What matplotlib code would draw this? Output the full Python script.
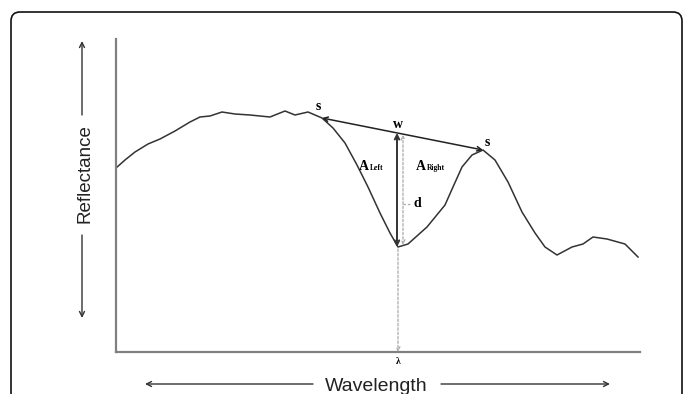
import matplotlib
matplotlib.use("Agg")
import matplotlib.pyplot as plt
from matplotlib.patches import FancyBboxPatch
from matplotlib.transforms import IdentityTransform

# spectrum (arbitrary units)
wavelength = [0, 9, 19, 32, 44, 59, 74, 84, 94, 106, 119, 134, 154, 169, 179,
              192, 206, 217, 229, 241, 252, 264, 274, 282, 292, 311, 329, 337,
              346, 356, 367, 379, 392, 406, 419, 429, 441, 456, 467, 477, 491,
              509, 522]
reflectance = [184, 192, 200, 208, 213, 221, 230, 235, 236, 240, 238, 237, 235,
               241, 237, 240, 234, 224, 209, 187, 165, 139, 119, 105, 108, 125,
               147, 165, 185, 197, 202, 192, 170, 140, 119, 105, 97, 105, 108,
               115, 113, 108, 95]

shoulder_left = (206, 234)
shoulder_right = (367, 202)
band_min = (282, 105)

fig = plt.figure(figsize=(6.83, 3.94), dpi=100)
W, H = 683, 394
ax = fig.add_axes([116 / W, (H - 352) / H, (640 - 116) / W, (352 - 39) / H])
ax.set_xlim(0, 524)
ax.set_ylim(0, 313)
for side in ["top", "right"]:
    ax.spines[side].set_visible(False)
for side in ["left", "bottom"]:
    ax.spines[side].set_color("#808080")
    ax.spines[side].set_linewidth(1.6)
ax.set_xticks([])
ax.set_yticks([])

ax.plot(wavelength, reflectance, color="#333333", lw=1.1)

# continuum line between shoulders
ax.annotate("", xy=shoulder_left, xytext=shoulder_right,
            arrowprops=dict(arrowstyle="<->", color="#222222", lw=1.1,
                            shrinkA=0, shrinkB=0, mutation_scale=8))

# w point on the continuum above the minimum
x0, y0 = shoulder_left
x1, y1 = shoulder_right
wx = band_min[0] - 1
wy = y0 + (y1 - y0) * (wx - x0) / (x1 - x0)

ax.annotate("", xy=(wx, wy), xytext=(wx, band_min[1]),
            arrowprops=dict(arrowstyle="<->", color="#333333", lw=1.4,
                            shrinkA=0, shrinkB=0, mutation_scale=8))
# depth dotted
ax.annotate("", xy=(wx + 6, wy - 2), xytext=(wx + 6, band_min[1] + 2),
            arrowprops=dict(arrowstyle="<->", color="#aaaaaa", lw=0.9,
                            linestyle=(0, (2, 1.5)), shrinkA=0, shrinkB=0,
                            mutation_scale=7))
dmid = (wy + band_min[1]) / 2 - 14
ax.plot([wx + 6, wx + 13], [dmid, dmid], color="#aaaaaa", lw=0.9,
        linestyle=(0, (2, 1.5)))
ax.text(wx + 17, dmid, "d", fontfamily="Liberation Serif", fontweight="bold",
        fontsize=10, va="center", ha="left")

# drop to wavelength axis
ax.annotate("", xy=(band_min[0], 0), xytext=(band_min[0], band_min[1] - 2),
            arrowprops=dict(arrowstyle="->", color="#aaaaaa", lw=0.9,
                            linestyle=(0, (2, 1.5)), shrinkA=0, shrinkB=0,
                            mutation_scale=7), annotation_clip=False)
ax.text(band_min[0], -10, "λ", fontfamily="Liberation Serif", fontweight="bold",
        fontsize=7, ha="center", va="center", clip_on=False)

serif = dict(fontfamily="Liberation Serif", fontweight="bold")
ax.text(x0 - 4, y0 + 11, "s", fontsize=10, ha="center", va="center", **serif)
ax.text(x1 + 4, y1 + 8, "s", fontsize=10, ha="center", va="center", **serif)
ax.text(wx + 1, wy + 8, "w", fontsize=10, ha="center", va="center", **serif)
ax.text(253, 182, "A", fontsize=10, ha="right", va="baseline", **serif)
ax.text(254, 182, "Left", fontsize=5.5, ha="left", va="baseline", **serif)
ax.text(310, 182, "A", fontsize=10, ha="right", va="baseline", **serif)
ax.text(311, 182, "Right", fontsize=5.5, ha="left", va="baseline", **serif)

# outer axis labels with arrows
sans = dict(fontfamily="Liberation Sans", color="#222222")
fig.text(85 / W, (H - 174) / H, "Reflectance", rotation=90, fontsize=13.5,
         ha="center", va="center", **sans)
fig.text(376 / W, 3 / H, "Wavelength", fontsize=14, ha="center",
         va="baseline", **sans)
arrow = dict(arrowstyle="->", color="#333333", lw=1.0, shrinkA=0, shrinkB=0,
             mutation_scale=9)
ax.annotate("", xy=(82, H - 41), xytext=(82, H - 115), xycoords="figure pixels",
            textcoords="figure pixels", arrowprops=arrow)
ax.annotate("", xy=(82, H - 318), xytext=(82, H - 235), xycoords="figure pixels",
            textcoords="figure pixels", arrowprops=arrow)
ax.annotate("", xy=(145, H - 384), xytext=(313, H - 384), xycoords="figure pixels",
            textcoords="figure pixels", arrowprops=arrow)
ax.annotate("", xy=(610, H - 384), xytext=(441, H - 384), xycoords="figure pixels",
            textcoords="figure pixels", arrowprops=arrow)

frame = FancyBboxPatch((11, -30), 671, H - 11 + 30 - 1,
                       boxstyle="round,pad=0,rounding_size=9",
                       transform=IdentityTransform(), fill=False,
                       edgecolor="#111111", lw=1.2)
fig.patches.append(frame)

fig.savefig("out.png", dpi=100)
